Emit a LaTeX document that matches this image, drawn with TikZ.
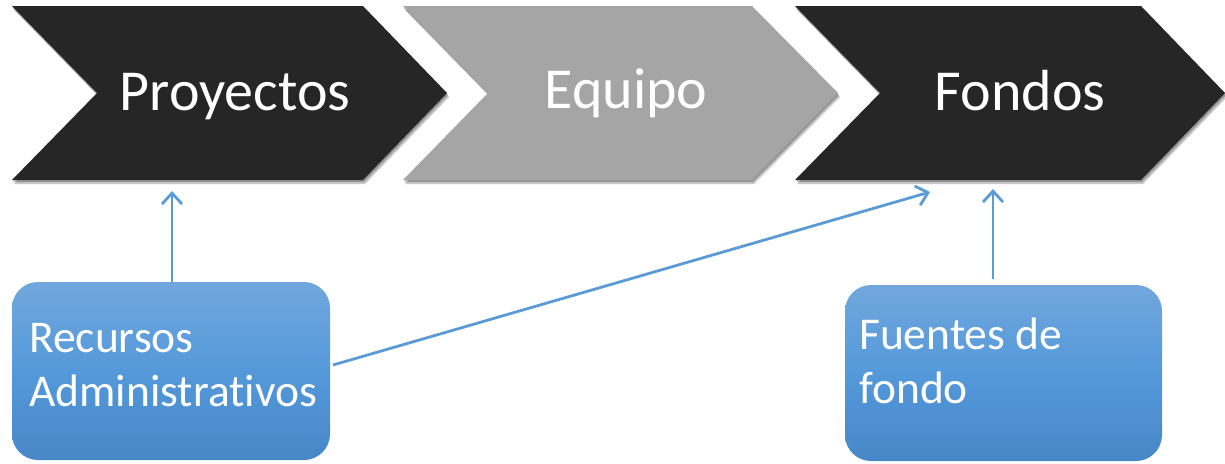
\documentclass[tikz,border=0pt]{standalone}
\usepackage{fontspec}
\setmainfont{Carlito}[Ligatures=NoCommon]
\usetikzlibrary{shadows,arrows.meta}
\definecolor{chevdark}{HTML}{262626}
\definecolor{chevgray}{HTML}{A5A5A5}
\definecolor{linkblue}{HTML}{5B9BD5}
\definecolor{boxtop}{HTML}{71A7DD}
\definecolor{boxmid}{HTML}{5499DA}
\definecolor{boxbot}{HTML}{4787C8}
\tikzset{
  chev/.style={drop shadow={shadow xshift=2pt,shadow yshift=-4pt,opacity=0.22,fill=black},
               drop shadow={shadow xshift=1pt,shadow yshift=-2pt,opacity=0.25,fill=black}},
  chevtext/.style={text=white,font=\fontsize{58}{62}\selectfont,inner sep=0pt,anchor=base},
  bluebox/.style={rounded corners=26pt,top color=boxtop,bottom color=boxbot,middle color=boxmid,draw=none},
  boxtext/.style={text=white,font=\fontsize{45.5}{54}\selectfont,align=left,anchor=north west,inner sep=0pt},
  link/.style={draw=linkblue,line width=2.8pt,-{Straight Barb[length=11pt,width=20pt,line width=2.8pt]}},
}
\begin{document}
\begin{tikzpicture}[x=1pt,y=-1pt]
\useasboundingbox (0,0) rectangle (1225,463);
% chevrons
\fill[chevdark,chev] (12,6) -- (363,6) -- (447,93) -- (363,180) -- (12,180) -- (97,93) -- cycle;
\fill[chevgray,chev] (403,6) -- (752,6) -- (838,93) -- (752,180) -- (403,180) -- (488,93) -- cycle;
\fill[chevdark,chev] (795,6) -- (1141,6) -- (1225,93) -- (1141,180) -- (795,180) -- (880,93) -- cycle;
\node[chevtext] (proy) at (235,110) {Proyectos};
\node[chevtext] (equipo) at (626,108) {Equipo};
\node[chevtext] (fondos) at (1020,110) {Fondos};
% blue boxes
\path[bluebox] (12,282) rectangle (330,460);
\path[bluebox] (845,285) rectangle (1162,461);
\node[boxtext] (recursos) at (29,323) {Recursos\\Administrativos};
\node[boxtext] (fuentes) at (859,318) {Fuentes de\\fondo};
% anchors for connectors
\coordinate (recTop) at (172,282);
\coordinate (proyBot) at (172,191);
\coordinate (recEast) at (333,365);
\coordinate (fondTgt) at (930,192);
\coordinate (fuenTop) at (993,279);
\coordinate (fondBot) at (993,189);
\draw[link] (recTop) -- (proyBot);
\draw[link] (recEast) -- (fondTgt);
\draw[link] (fuenTop) -- (fondBot);
\end{tikzpicture}
\end{document}
